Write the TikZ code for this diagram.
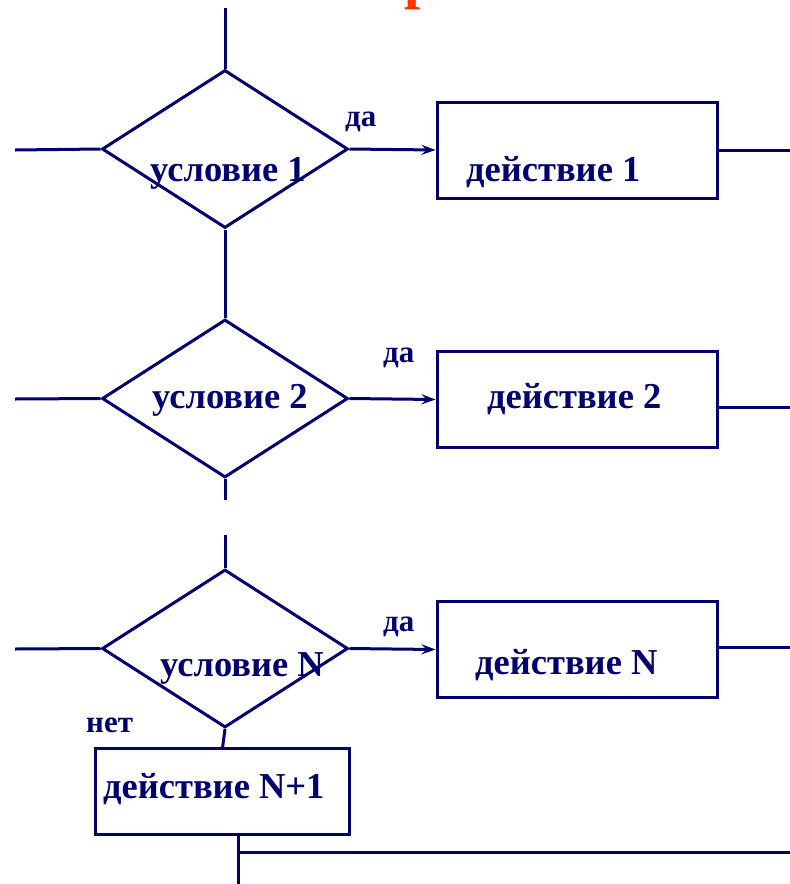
\documentclass[tikz,border=0pt]{standalone}
\usepackage{fontspec}
\setmainfont{Liberation Serif}
\usetikzlibrary{shapes.geometric,arrows.meta}
\definecolor{ink}{RGB}{0,0,110}
\definecolor{headred}{RGB}{255,51,0}
\tikzset{
  flow/.style={draw=ink, line width=3pt},
  cond/.style={flow, diamond, shape aspect=1.557, inner sep=0pt,
               minimum width=246pt, minimum height=158pt},
  act/.style={flow, rectangle, inner sep=0pt, minimum width=280pt, minimum height=96pt},
  bigtxt/.style={inner sep=0pt, anchor=base west, text=ink,
                 font=\fontsize{36.5}{40}\selectfont\bfseries},
  smalltxt/.style={inner sep=0pt, anchor=base west, text=ink,
                   font=\fontsize{31}{34}\selectfont\bfseries},
  link/.style={draw=ink, line width=3pt},
  yes/.style={link, -{Stealth[length=14pt,width=10pt,inset=5pt]}}
}
\begin{document}
\begin{tikzpicture}[x=1pt,y=-1pt]
\useasboundingbox (0,0) rectangle (790,884);

% heading, mostly above the page
\node[inner sep=0pt, anchor=south, text=headred,
      font=\fontsize{58}{60}\selectfont\bfseries] (head) at (421,10) {р};

% decisions
\node[cond] (c1) at (225,149) {};
\node[cond] (c2) at (225,398.5) {};
\node[cond] (c3) at (225,648.5) {};

% actions
\node[act] (a1) at (577,150) {};
\node[act] (a2) at (577,399.5) {};
\node[act] (a3) at (577,649.5) {};
\node[act, minimum width=254pt, minimum height=86pt] (a4) at (222,791) {};

% labels
\node[bigtxt] (tc1) at (150,181) {условие 1};
\node[bigtxt] (tc2) at (152,408) {условие 2};
\node[bigtxt] (tc3) at (160,676) {условие N};
\node[bigtxt] (ta1) at (466,181) {действие 1};
\node[bigtxt] (ta2) at (487,408) {действие 2};
\node[bigtxt] (ta3) at (475,674) {действие N};
\node[bigtxt] (ta4) at (103,798) {действие N+1};
\node[smalltxt] (y1) at (345,126) {да};
\node[smalltxt] (y2) at (383,362) {да};
\node[smalltxt] (y3) at (383,631) {да};
\node[smalltxt] (n3) at (86,732) {нет};

% free line ends
\coordinate (top) at (225,8);
\coordinate (in1) at (15,150);
\coordinate (in2) at (15,399);
\coordinate (in3) at (15,649);
\coordinate (o1s) at (717,150);
\coordinate (o1) at (790,150);
\coordinate (o2s) at (717,407);
\coordinate (o2) at (790,407);
\coordinate (o3s) at (717,647);
\coordinate (o3) at (790,647);
\coordinate (gapA) at (225,500);
\coordinate (gapB) at (225,535);
\coordinate (nstep) at (222.5,748);
\coordinate (downS) at (238,835);
\coordinate (down) at (238,884);
\coordinate (joinS) at (238,852);
\coordinate (join) at (790,852);

% connectors
\draw[link] (top) -- (c1.north);
\draw[link] (in1) -- (c1.west);
\draw[yes] (c1.east) -- (a1.west);
\draw[link] (o1s) -- (o1);
\draw[link] (c1.south) -- (c2.north);
\draw[link] (in2) -- (c2.west);
\draw[yes] (c2.east) -- (a2.west);
\draw[link] (o2s) -- (o2);
\draw[link] (c2.south) -- (gapA);
\draw[link] (gapB) -- (c3.north);
\draw[link] (in3) -- (c3.west);
\draw[yes] (c3.east) -- (a3.west);
\draw[link] (o3s) -- (o3);
\draw[link] (c3.south) -- (nstep);
\draw[link] (downS) -- (down);
\draw[link] (joinS) -- (join);
\end{tikzpicture}
\end{document}
